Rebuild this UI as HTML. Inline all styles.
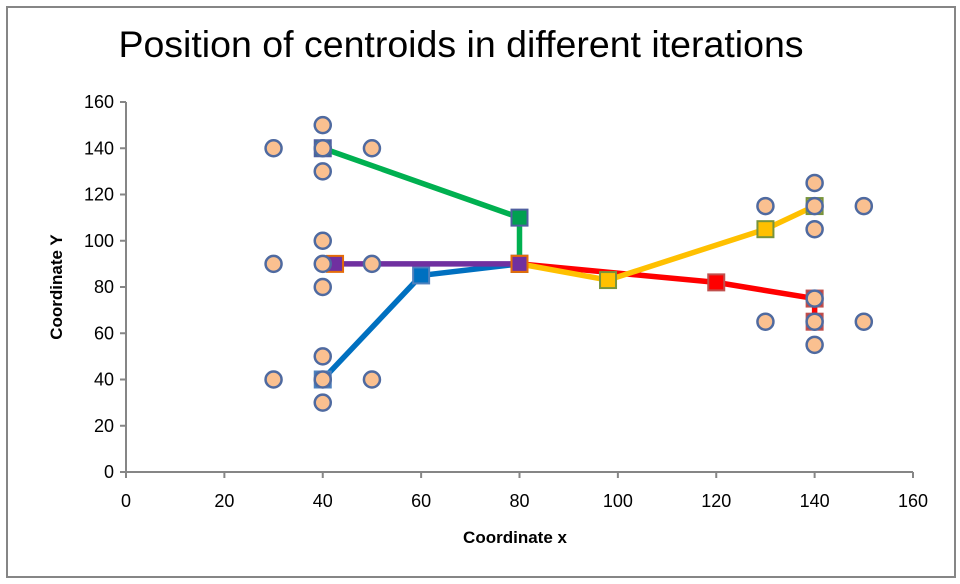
<!DOCTYPE html>
<html><head><meta charset="utf-8"><style>
body{margin:0;background:#fff;}
svg{display:block;font-family:"Liberation Sans",Arial,sans-serif;}
</style></head><body>
<svg id="chart" width="960" height="584" viewBox="0 0 960 584">
<rect x="7" y="7" width="948" height="570" fill="#fff" stroke="#868686" stroke-width="2"/>
<text x="461" y="57" font-size="37.5" text-anchor="middle" fill="#000">Position of centroids in different iterations</text>
<g id="axes"></g>
<g id="lines"></g>
<g id="points"></g>
<text x="515" y="543" font-size="17" font-weight="bold" text-anchor="middle">Coordinate x</text>
<text transform="translate(62,287) rotate(-90)" font-size="17" font-weight="bold" text-anchor="middle">Coordinate Y</text>
</svg>
<script>
const xTicks=[0,20,40,60,80,100,120,140,160];
const yTicks=[0,20,40,60,80,100,120,140,160];
const pointsX=[30,40,40,40,50,30,40,40,40,50,30,40,40,40,50,130,140,140,140,150,130,140,140,140,150];
const pointsY=[140,150,140,130,140,90,100,90,80,90,40,50,40,30,40,115,125,115,105,115,65,75,65,55,65];
const greenX=[40,80,80], greenY=[140,110,90];
const purpleX=[42.5,80], purpleY=[90,90];
const blueX=[40,60,80], blueY=[40,85,90];
const redX=[80,120,140,140], redY=[90,82,75,65];
const yellowX=[80,98,130,140], yellowY=[90,83,105,115];
const ns="http://www.w3.org/2000/svg";
const X=v=>126+v*(913-126)/160, Y=v=>472-v*(472-102)/160;
function mk(tag,parent,attrs){const e=document.createElementNS(ns,tag);for(const k in attrs)e.setAttribute(k,attrs[k]);document.getElementById(parent).appendChild(e);return e;}
let e;
e=mk('line','axes',{x1:X(0),y1:Y(0),x2:X(160),y2:Y(0),stroke:'#868686','stroke-width':2});


e=mk('line','axes',{x1:X(0),y1:Y(0),x2:X(0),y2:Y(160),stroke:'#868686','stroke-width':2});


xTicks.forEach(t=>{
 e=mk('line','axes',{x1:X(t),y1:Y(0),x2:X(t),y2:Y(0)+6,stroke:'#868686','stroke-width':2});
 
 
 e=mk('text','axes',{x:X(t),y:Y(0)+35,'font-size':18,'text-anchor':'middle'});e.textContent=t;
 
 
});
yTicks.forEach(t=>{
 e=mk('line','axes',{x1:X(0)-6,y1:Y(t),x2:X(0),y2:Y(t),stroke:'#868686','stroke-width':2});
 
 
 e=mk('text','axes',{x:X(0)-12,y:Y(t)+6,'font-size':18,'text-anchor':'end'});e.textContent=t;
 
 
});
function series(name,xs,ys,color,mfill,mstroke){
 e=mk('polyline','lines',{points:xs.map((x,i)=>X(x)+','+Y(ys[i])).join(' '),fill:'none',stroke:color,'stroke-width':5.5,'stroke-linejoin':'round'});
 
 
 xs.forEach((x,i)=>{
  e=mk('rect','lines',{x:X(x)-8,y:Y(ys[i])-8,width:16,height:16,fill:mfill,stroke:mstroke,'stroke-width':2});
  
  
 });
}
series('green',greenX,greenY,'#00b050','#00a050','#4f5f9f');
series('blue',blueX,blueY,'#0070c0','#0070c0','#4f81bd');
series('red',redX,redY,'#ff0000','#ff0000','#c0504d');
series('yellow',yellowX,yellowY,'#ffc000','#ffc000','#77933c');
series('purple',purpleX,purpleY,'#7030a0','#7030a0','#e46c0a');
pointsX.forEach((x,i)=>{
 e=mk('circle','points',{cx:X(x),cy:Y(pointsY[i]),r:8,fill:'#fac090',stroke:'#4f6aa0','stroke-width':2.5});
 
 
});
</script>
</body></html>
